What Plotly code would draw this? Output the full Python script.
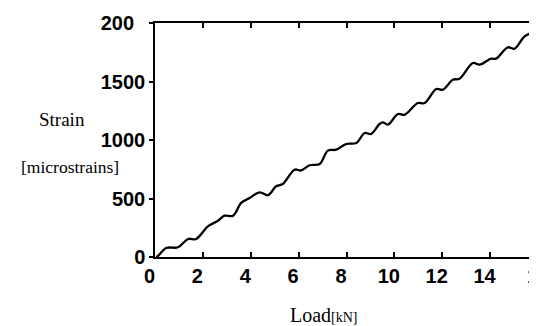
import plotly.graph_objects as go

# Data
load_kN = [0.05, 0.13, 0.47, 0.96, 1.38, 1.72, 2.21, 2.63, 2.91, 3.26, 3.60, 3.95, 4.37, 4.72,
           5.06, 5.34, 5.83, 6.11, 6.46, 6.88, 7.22, 7.57, 7.99, 8.41, 8.76, 9.03, 9.38, 9.52,
           9.73, 10.15, 10.43, 10.98, 11.26, 11.75, 12.03, 12.44, 12.72, 13.28, 13.56, 14.04,
           14.25, 14.74, 15.02, 15.44, 15.78]
strain = [0, 10, 77, 83, 154, 154, 262, 310, 353, 353, 462, 504, 553, 528,
          604, 624, 746, 740, 784, 795, 909, 917, 966, 974, 1060, 1051, 1137, 1151,
          1131, 1222, 1216, 1316, 1316, 1436, 1430, 1515, 1524, 1658, 1644, 1695,
          1695, 1792, 1780, 1886, 1915]

x_ticks = [0, 2, 4, 6, 8, 10, 12, 14, 16]
x_ticktext = ["0", "2", "4", "6", "8", "10", "12", "14", "16"]
y_ticks = [0, 500, 1000, 1500, 2000]
y_ticktext = ["0", "500", "1000", "1500", "200\u2007"]

W, H = 537, 326
L, R, T, B = 147, 7, 15, 77

fig = go.Figure()
fig.add_trace(go.Scatter(x=load_kN, y=strain, mode="lines",
                         line=dict(color="black", width=2.3, shape="spline", smoothing=1.0),
                         hoverinfo="skip", showlegend=False))
fig.add_trace(go.Scatter(x=load_kN, y=strain, mode="lines", yaxis="y2",
                         line=dict(color="rgba(0,0,0,0)", width=0),
                         hoverinfo="skip", showlegend=False))

tickfont = dict(family="Liberation Sans", size=20, color="black", weight="bold")
serif = "Liberation Serif"

# trailing figure space nudges labels left like the reference (except the clipped last one)
x_text_shown = [t + "\u2007" for t in x_ticktext[:-1]] + [x_ticktext[-1]]

fig.update_layout(
    width=W, height=H,
    margin=dict(l=L, r=R, t=T, b=B, pad=0, autoexpand=False),
    paper_bgcolor="white", plot_bgcolor="white",
    xaxis=dict(range=[0, 16], tickvals=x_ticks, ticktext=x_text_shown,
               showline=True, linecolor="black", linewidth=1.5, mirror="ticks",
               ticks="inside", ticklen=5, tickcolor="black", tickwidth=1.5,
               showgrid=False, zeroline=False, tickfont=tickfont, automargin=False,
               ticklabelstandoff=0, ticklabeloverflow="allow"),
    yaxis=dict(range=[0, 2000], tickvals=y_ticks, ticktext=y_ticktext,
               showline=True, linecolor="black", linewidth=1.5, mirror=True,
               ticks="outside", ticklen=4, tickcolor="black", tickwidth=1.5,
               showgrid=False, zeroline=False, tickfont=tickfont, automargin=False,
               ticklabelstandoff=0, ticklabeloverflow="allow"),
    yaxis2=dict(range=[0, 2000], tickvals=[500, 1000, 1500], overlaying="y", side="right",
                showticklabels=False, ticks="inside", ticklen=5, tickcolor="black",
                tickwidth=1.5, showgrid=False, zeroline=False, showline=False, automargin=False),
    font=dict(family=serif, color="black"),
)

def px_x(px):
    return (px - L) / (W - L - R)

def px_y(py):
    return (H - B - py) / (H - B - T)

fig.add_annotation(text="Strain", x=px_x(54), y=px_y(111), xref="paper", yref="paper",
                   showarrow=False, xanchor="center", yanchor="middle",
                   font=dict(family=serif, size=19))
fig.add_annotation(text="[microstrains]", x=px_x(62), y=px_y(159), xref="paper", yref="paper",
                   showarrow=False, xanchor="center", yanchor="middle",
                   font=dict(family=serif, size=17.5))
fig.add_annotation(text="Load<span style='font-size:14px'>[kN]</span>", x=px_x(316), y=px_y(307),
                   xref="paper", yref="paper", showarrow=False, xanchor="center", yanchor="middle",
                   borderpad=0, font=dict(family=serif, size=20))

fig.write_html("out.html")
